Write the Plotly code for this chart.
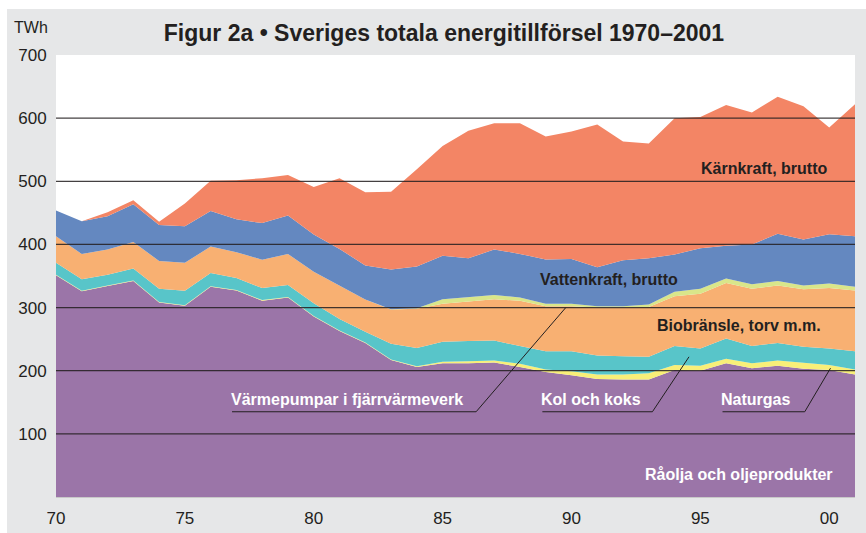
import plotly.graph_objects as go

years = list(range(1970, 2002))
raolja = [351, 326, 334, 342, 308, 303, 333, 327, 311, 316, 286, 263, 244, 217, 206, 212,
          212, 213, 206, 198, 193, 187, 186, 186, 201, 200, 212, 204, 208, 203, 201, 194]
naturgas = [0.8, 0.8, 0.8, 0.8, 0.8, 0.8, 0.8, 0.8, 0.8, 0.8, 0.8, 0.8, 0.8, 0.8, 1, 2,
            3, 3, 5, 4, 6, 7, 8, 10, 8, 8, 7, 8, 8, 9, 8, 8]
kol = [19, 18, 17, 19, 21, 23, 21, 19, 19, 19, 20, 18, 17, 25, 29, 32,
       32, 32, 28, 29, 32, 30, 29, 26, 30, 27, 32, 27, 28, 26, 26, 29]
bio = [42, 40, 40, 42, 44, 44, 42, 41, 45, 49, 50, 53, 51, 54, 62, 60,
       63, 65, 72, 71, 71, 76, 77, 79, 79, 87, 88, 91, 91, 91, 96, 96]
varmepump = [0, 0, 0, 0, 0, 0, 0, 0, 0, 0, 0, 0, 0, 0.5, 1, 7,
             7, 7, 5, 4, 4, 2, 2, 4, 7, 8, 7, 7, 7, 6, 7, 6]
vatten = [41, 52, 53, 60, 57, 58, 56, 52, 58, 61, 59, 58, 54, 63, 66, 69,
          61, 72, 69, 70, 71, 62, 73, 73, 59, 64, 52, 63, 75, 73, 78, 80]
karn = [0, 0, 6, 6, 5, 36, 48, 62, 71, 64, 75, 112, 116, 123, 154, 174,
        202, 200, 207, 195, 202, 226, 188, 182, 216, 208, 223, 209, 217, 211, 169, 209]

series = [
    ("Råolja och oljeprodukter", raolja, "#9b75a8"),
    ("Naturgas", naturgas, "#f8ef78"),
    ("Kol och koks", kol, "#58c5c9"),
    ("Biobränsle, torv m.m.", bio, "#f8b072"),
    ("Värmepumpar i fjärrvärmeverk", varmepump, "#d9e68a"),
    ("Vattenkraft, brutto", vatten, "#6488c0"),
    ("Kärnkraft, brutto", karn, "#f38565"),
]

y_ticks = [0, 100, 200, 300, 400, 500, 600, 700]
x_ticks = [1970, 1975, 1980, 1985, 1990, 1995, 2000]
x_labels = ["70", "75", "80", "85", "90", "95", "00"]

fig = go.Figure()
for name, vals, col in series:
    fig.add_trace(go.Scatter(
        x=years, y=vals, name=name, stackgroup="one", mode="lines",
        line=dict(width=0, color=col), fillcolor=col, hoverinfo="x+y+name"))

SANS = "Liberation Sans, Arial, Helvetica, sans-serif"

shapes = []
for t in y_ticks[1:-1]:
    shapes.append(dict(type="line", xref="paper", x0=0, x1=1, yref="y", y0=t, y1=t,
                       line=dict(color="rgba(35,31,32,0.85)", width=1.3), layer="above"))

# leader lines (underline + diagonal)
leaders = [
    [(1976.83, 135), (1986.30, 135), (1989.78, 300)],
    [(1988.87, 135), (1993.14, 135), (1994.56, 222)],
    [(1995.86, 135), (1999.05, 135), (2000.05, 204)],
]
for pts in leaders:
    path = "M " + " L ".join(f"{x},{y}" for x, y in pts)
    shapes.append(dict(type="path", xref="x", yref="y", path=path,
                       line=dict(color="#231f20", width=1), layer="above"))

annots = [
    ("Kärnkraft, brutto", 1994.95, 521, "#231f20"),
    ("Vattenkraft, brutto", 1988.72, 344, "#231f20"),
    ("Biobränsle, torv m.m.", 1993.24, 272, "#231f20"),
    ("Värmepumpar i fjärrvärmeverk", 1976.71, 154, "white"),
    ("Kol och koks", 1988.75, 154, "white"),
    ("Naturgas", 1995.74, 154, "white"),
    ("Råolja och oljeprodukter", 1992.78, 35, "white"),
]
annotations = []
for txt, x, y, col in annots:
    annotations.append(dict(text="<b>" + txt + "</b>", x=x, y=y, xref="x", yref="y",
                            xanchor="left", yanchor="middle", showarrow=False,
                            font=dict(family=SANS, size=16, color=col)))
annotations.append(dict(text="TWh", xref="paper", yref="paper", x=-0.0307, y=1.063,
                        xanchor="center", yanchor="middle", showarrow=False,
                        font=dict(family=SANS, size=16, color="#231f20")))

fig.update_layout(
    width=859, height=524,
    margin=dict(l=49, r=11, t=46, b=36, autoexpand=False),
    paper_bgcolor="#e6e7e8", plot_bgcolor="white",
    showlegend=False,
    title=dict(text="<b>Figur 2a • Sveriges totala energitillförsel 1970–2001</b>",
               x=0.5087, xanchor="center", y=0.954, yanchor="middle",
               font=dict(family=SANS, size=23, color="#231f20")),
    xaxis=dict(range=[1970, 2001], tickvals=x_ticks, ticktext=x_labels,
               showgrid=False, zeroline=False, ticks="outside", ticklen=6,
               tickcolor="#e6e7e8", tickfont=dict(family=SANS, size=17, color="#231f20"),
               showline=True, linecolor="#c8c8c8", linewidth=1, automargin=False),
    yaxis=dict(range=[0, 700], tickvals=y_ticks[1:], showgrid=False, zeroline=False,
               ticks="outside", ticklen=5, tickcolor="#e6e7e8", automargin=False,
               tickfont=dict(family=SANS, size=17, color="#231f20")),
    shapes=shapes, annotations=annotations,
)
fig.write_html(
    "out.html", config={"displayModeBar": False},
    post_script=("document.body.style.margin='0';"
                 "document.body.style.padding='9px 0 0 7px';"
                 "document.body.style.background='white';"
                 "document.body.style.overflow='hidden';"))
